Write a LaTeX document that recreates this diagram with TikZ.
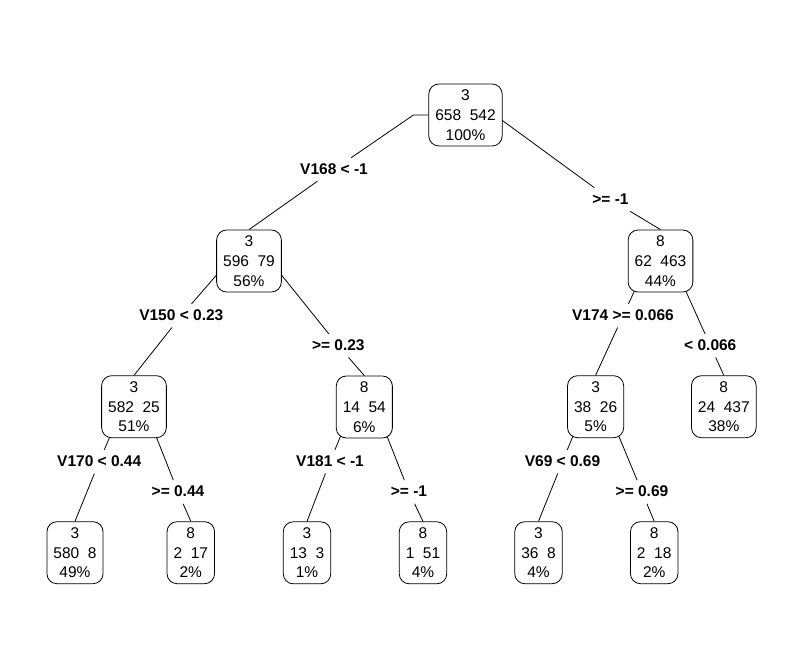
\documentclass[tikz,border=0pt]{standalone}
\usepackage{fontspec}
\setmainfont{Liberation Sans}
\usetikzlibrary{backgrounds}

\begin{document}
\begin{tikzpicture}[line cap=round,line join=round,x=1pt,y=-1pt,
  box/.style={draw,rounded corners=10pt,fill=white,line width=0.8pt,align=center,
    inner xsep=6.5pt,inner ysep=5.5pt,minimum height=62pt,font=\fontsize{15.5}{19.7}\selectfont},
  cond/.style={font=\fontsize{15.5}{19}\selectfont\bfseries,inner xsep=2pt,inner ysep=5pt,
    text height=11.2pt,text depth=2pt},
  branch/.style={line width=0.8pt}]
\useasboundingbox (0,0) rectangle (803,669);
\node[box] (n1) at (465.5,115) {3\\658~~542\\100\%};
\node[box] (n2) at (249,261) {3\\596~~79\\56\%};
\node[box] (n3) at (660.5,261) {8\\62~~463\\44\%};
\node[box] (n4) at (134,406.7) {3\\582~~25\\51\%};
\node[box] (n5) at (364.3,407) {8\\14~~54\\6\%};
\node[box] (n6) at (595.6,406.7) {3\\38~~26\\5\%};
\node[box] (n7) at (723.8,406.7) {8\\24~~437\\38\%};
\node[box] (n8) at (75,552.7) {3\\580~~8\\49\%};
\node[box] (n9) at (190.8,552.7) {8\\2~~17\\2\%};
\node[box] (n10) at (307,552.8) {3\\13~~3\\1\%};
\node[box] (n11) at (423,552.8) {8\\1~~51\\4\%};
\node[box] (n12) at (538.5,552.7) {3\\36~~8\\4\%};
\node[box] (n13) at (654.2,552.7) {8\\2~~18\\2\%};
\node[cond] (l1) at (334,169.5) {V168 < -1};
\node[cond] (l2) at (610.5,199.5) {>= -1};
\node[cond] (l3) at (181.3,315.7) {V150 < 0.23};
\node[cond] (l4) at (338.3,345.7) {>= 0.23};
\node[cond] (l5) at (623,315.7) {V174 >= 0.066};
\node[cond] (l6) at (710.3,345.7) {< 0.066};
\node[cond] (l7) at (99.2,461.7) {V170 < 0.44};
\node[cond] (l8) at (178,492) {>= 0.44};
\node[cond] (l9) at (330,461.7) {V181 < -1};
\node[cond] (l10) at (409,492) {>= -1};
\node[cond] (l11) at (562.5,461.7) {V69 < 0.69};
\node[cond] (l12) at (642,492) {>= 0.69};
\begin{pgfonlayer}{background}
\draw[branch] (n1.west) -- ([xshift=-15pt]n1.west) -- (l1) -- (n2.north);
\draw[branch] ([yshift=-10pt]n1.north) -- (l2) -- (n3.north);
\draw[branch] ([yshift=-8pt]n2.north) -- (l3) -- (n4.north);
\draw[branch] ([yshift=-5pt]n2.north) -- (l4) -- (n5.north);
\draw[branch] ([yshift=-5pt]n3.north) -- (l5) -- (n6.north);
\draw[branch] ([yshift=-5pt]n3.north) -- (l6) -- (n7.north);
\draw[branch] ([yshift=-5pt]n4.north) -- (l7) -- (n8.north);
\draw[branch] ([yshift=-5pt]n4.north) -- (l8) -- (n9.north);
\draw[branch] ([yshift=-3pt]n5.north) -- (l9) -- (n10.north);
\draw[branch] ([yshift=-3pt]n5.north) -- (l10) -- (n11.north);
\draw[branch] ([yshift=-5pt]n6.north) -- (l11) -- (n12.north);
\draw[branch] ([yshift=-5pt]n6.north) -- (l12) -- (n13.north);
\end{pgfonlayer}
\end{tikzpicture}
\end{document}
